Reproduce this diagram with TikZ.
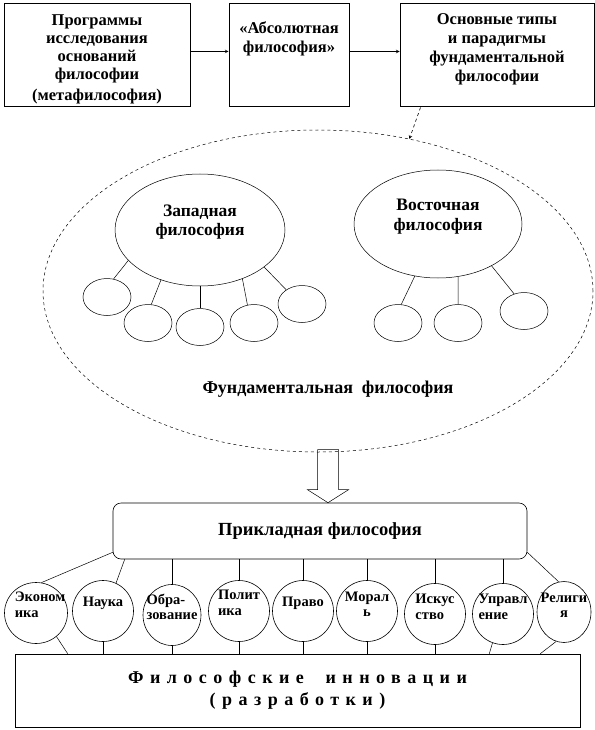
\documentclass[tikz,border=0pt]{standalone}
\usepackage{fontspec}
\setmainfont{Liberation Serif}
\usepackage{tikz}
\usetikzlibrary{shapes.geometric, arrows, positioning, calc}
\tikzstyle{arrow} = [->,>=stealth, line width=0.6pt]
\tikzstyle{link} = [line width=0.5pt]
\tikzstyle{topbox} = [rectangle, minimum height=103pt, draw=black, line width=1pt, inner sep=0pt]
\tikzstyle{toptext} = [anchor=north, align=center, inner sep=0pt, font=\fontsize{16.5}{19}\selectfont\bfseries]
\tikzstyle{school} = [ellipse, draw=black, line width=0.5pt, inner sep=0pt]
\tikzstyle{schooltext} = [align=center, inner sep=0pt, font=\fontsize{17.5}{19.5}\selectfont\bfseries]
\tikzstyle{leaf} = [ellipse, draw=black, line width=0.5pt, minimum width=48pt, minimum height=37pt, inner sep=0pt]
\tikzstyle{sphere} = [ellipse, draw=black, line width=0.6pt, minimum width=61pt, minimum height=61pt, inner sep=0pt]
\tikzstyle{word} = [align=left, inner sep=0pt, font=\fontsize{14.5}{15.5}\selectfont\bfseries]

\begin{document}
\begin{tikzpicture}[x=1pt, y=1pt]
    \useasboundingbox (0,0) rectangle (594,-730);

    % Top row
    \node (prog) [topbox, minimum width=186pt] at (97,-55.5) {};
    \node (progtext) [toptext, font=\fontsize{16.5}{18}\selectfont\bfseries] at ([yshift=-11pt]prog.north) {Программы\\исследования\\оснований\\философии\\[3pt](метафилософия)};
    \node (abs) [topbox, minimum width=120pt, right=38pt of prog] {};
    \node (abstext) [toptext] at ([yshift=-18pt]abs.north) {«Абсолютная\\философия»};
    \node (types) [topbox, minimum width=194pt, right=50pt of abs] {};
    \node (typestext) [toptext] at ([yshift=-10pt]types.north) {Основные типы\\и парадигмы\\фундаментальной\\философии};
    \draw [arrow] ([yshift=4pt]prog.east) -- ([yshift=4pt]abs.west);
    \draw [arrow] ([yshift=4pt]abs.east) -- ([yshift=4pt]types.west);

    % Fundamental philosophy
    \node (fund) [ellipse, draw=black, dashed, line width=0.5pt, minimum width=550pt, minimum height=322pt, inner sep=0pt] at (318,-291) {};
    \draw [arrow, dashed] ([xshift=21pt]types.south west) -- (fund.59);
    \node (fundlabel) [font=\fontsize{18}{20}\selectfont\bfseries] at (328,-389) {Фундаментальная\ \ философия};

    % Western philosophy
    \node (west) [school, minimum width=170pt, minimum height=112pt] at (200,-230) {};
    \node (westtext) [schooltext] at ([yshift=8pt]west) {Западная\\философия};
    \node (w1) [leaf] at (107,-297) {};
    \node (w2) [leaf] at (148,-323) {};
    \node (w3) [leaf] at (200,-327) {};
    \node (w4) [leaf] at (254,-323) {};
    \node (w5) [leaf] at (302,-304) {};
    \draw [link] (west.203) -- (w1.70);
    \draw [link] (west.232) -- (w2.80);
    \draw [link] (west.south) -- (w3.north);
    \draw [link] (west.311) -- (w4.110);
    \draw [link] (west.330) -- (w5.138);

    % Eastern philosophy
    \node (east) [school, minimum width=168pt, minimum height=108pt] at (438,-224) {};
    \node (easttext) [schooltext] at ([yshift=7.5pt]east) {Восточная\\философия};
    \node (e1) [leaf] at (398,-323) {};
    \node (e2) [leaf] at (458,-323) {};
    \node (e3) [leaf] at (524,-311) {};
    \draw [link] (east.246) -- (e1.80);
    \draw [link] (east.291) -- (e2.north);
    \draw [link] (east.322) -- (e3.120);

    % Applied philosophy
    \node (appl) [rectangle, rounded corners=8pt, draw=black, line width=0.6pt, minimum width=414pt, minimum height=56pt, font=\fontsize{18.5}{20}\selectfont\bfseries] at (320,-531) {Прикладная философия};
    \coordinate (tip) at ([xshift=8pt]appl.north);
    \draw [line width=0.5pt] (tip) -- ++(-20.5,13) -- ++(10,0) -- ++(0,40) -- ++(21,0) -- ++(0,-40) -- ++(10,0) -- cycle;

    % Spheres
    \node (c1) [sphere, minimum width=63pt] at (36,-613) {};
    \node (c2) [sphere] at (103,-611) {};
    \node (c3) [sphere, minimum width=58pt] at (172,-615) {};
    \node (c4) [sphere] at (239,-611) {};
    \node (c5) [sphere] at (303,-611) {};
    \node (c6) [sphere] at (367,-611) {};
    \node (c7) [sphere] at (435,-614) {};
    \node (c8) [sphere] at (503,-614) {};
    \node (c9) [sphere, minimum width=54pt] at (564,-612) {};
    \node (t1) [word] at ([xshift=4pt, yshift=8pt]c1) {Эконом\\ика};
    \node (t2) [word] at ([yshift=8pt]c2) {Наука};
    \node (t3) [word] at ([yshift=8pt]c3) {Обра-\\зование};
    \node (t4) [word] at ([yshift=8pt]c4) {Полит\\ика};
    \node (t5) [word] at ([yshift=8pt]c5) {Право};
    \node (t6) [word, align=center] at ([yshift=7pt]c6) {Морал\\ь};
    \node (t7) [word] at ([yshift=7pt]c7) {Искус\\ство};
    \node (t8) [word] at ([yshift=7pt]c8) {Управл\\ение};
    \node (t9) [word, align=center] at ([yshift=7pt]c9) {Религи\\я};
    \draw [link] ([yshift=7pt]appl.south west) -- (c1.80);
    \draw [link] ([xshift=12pt]appl.south west) -- (c2.65);
    \draw [link] (c3.north |- appl.south) -- (c3.north);
    \draw [link] (c4.north |- appl.south) -- (c4.north);
    \draw [link] (c5.north |- appl.south) -- (c5.north);
    \draw [link] (c6.north |- appl.south) -- (c6.north);
    \draw [link] (c7.north |- appl.south) -- (c7.north);
    \draw [link] (c8.north |- appl.south) -- (c8.north);
    \draw [link] ([yshift=7pt]appl.south east) -- (c9.100);

    % Innovations
    \node (inno) [rectangle, draw=black, line width=0.6pt, minimum width=565pt, minimum height=73pt, align=center, font=\fontsize{18}{22}\selectfont\bfseries\addfontfeature{LetterSpace=36}] at (297.5,-690.5) {Философские\hspace{1.2em}инновации\\(разработки)};
    \draw [link] (c1.311) -- ([xshift=53pt]inno.north west);
    \draw [link] (c2.south) -- (c2.south |- inno.north);
    \draw [link] (c3.south) -- (c3.south |- inno.north);
    \draw [link] (c4.south) -- (c4.south |- inno.north);
    \draw [link] (c5.south) -- (c5.south |- inno.north);
    \draw [link] (c6.south) -- (c6.south |- inno.north);
    \draw [link] (c7.south) -- (c7.south |- inno.north);
    \draw [link] (c8.250) -- ([xshift=-91pt]inno.north east);
    \draw [link] (c9.255) -- ([xshift=-40pt]inno.north east);
\end{tikzpicture}
\end{document}
